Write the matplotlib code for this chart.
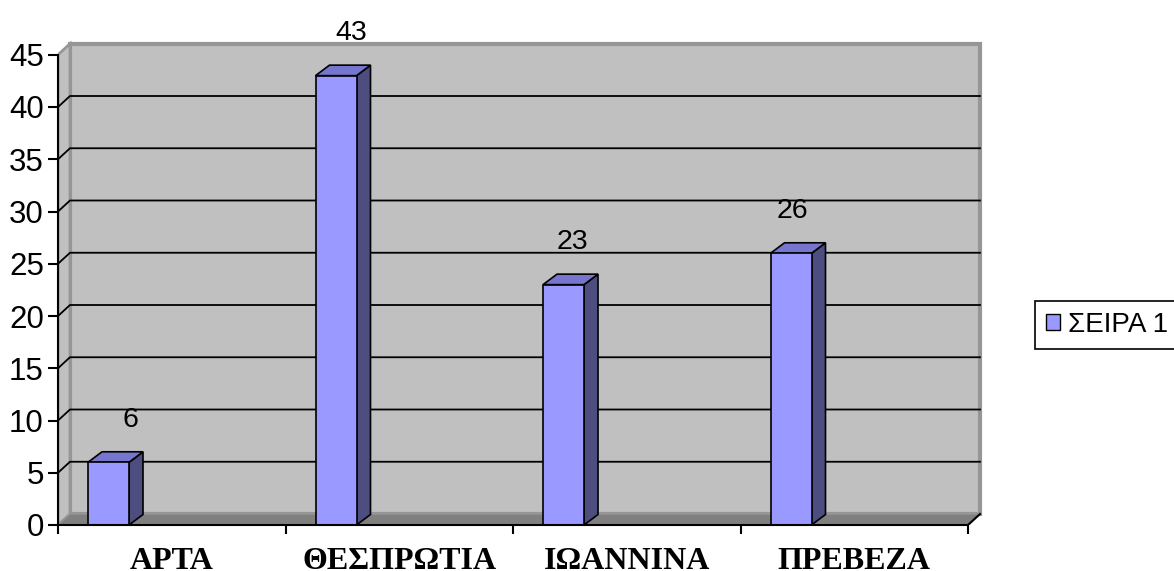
import matplotlib.pyplot as plt
from matplotlib.patches import Polygon, Rectangle, Patch

# Data
categories = ['ΑΡΤΑ', 'ΘΕΣΠΡΩΤΙΑ', 'ΙΩΑΝΝΙΝΑ', 'ΠΡΕΒΕΖΑ']
values = [6, 43, 23, 26]
series_name = 'ΣΕΙΡΑ 1'
y_ticks = [0, 5, 10, 15, 20, 25, 30, 35, 40, 45]

W, H = 1174, 571
fig = plt.figure(figsize=(W / 100, H / 100), dpi=100)

# axes placed so that one category is ~227 px wide and one unit ~10.45 px tall
x_max, y_max = 4.1, 47
ax = fig.add_axes([58 / W, 46 / H, x_max * 227.5 / W, y_max * 10.45 / H])
ax.set_xlim(0, x_max)
ax.set_ylim(0, y_max)

# 3D depth offset in data units
dx = 12 / 227.5
dy = 11 / 10.45
n = len(categories)
top = y_ticks[-1]

wall = '#c0c0c0'
edge = '#969696'

# back wall, side wall and floor
ax.add_patch(Rectangle((dx, dy), n, top, fc=wall, ec=edge, lw=3, zorder=1))
ax.add_patch(Polygon([(0, 0), (0, top), (dx, top + dy), (dx, dy)],
                     fc=wall, ec=edge, lw=2, zorder=1))
ax.add_patch(Polygon([(0, 0), (n, 0), (n + dx, dy), (dx, dy)],
                     fc='#808080', ec=edge, lw=1, zorder=1.5))

# gridlines on side and back wall
for v in y_ticks[1:-1]:
    ax.plot([0, dx, n + dx], [v, v + dy, v + dy], color='k', lw=1.3, zorder=2)

# right end of the floor edge
ax.plot([n, n + dx], [0, dy], color='k', lw=1.5, zorder=2)

# 3D bars
bar_off = 30 / 227.5
bar_w = 41 / 227.5
bdx = 14 / 227.5
bdy = 10.5 / 10.45
for i, v in enumerate(values):
    x0 = i + bar_off
    ax.add_patch(Polygon([(x0 + bar_w, 0), (x0 + bar_w + bdx, bdy),
                          (x0 + bar_w + bdx, v + bdy), (x0 + bar_w, v)],
                         fc='#4d4d80', ec='k', lw=1.2, zorder=3))
    ax.add_patch(Polygon([(x0, v), (x0 + bar_w, v), (x0 + bar_w + bdx, v + bdy),
                          (x0 + bdx, v + bdy)],
                         fc='#7676cf', ec='k', lw=1.2, zorder=3))
    ax.add_patch(Rectangle((x0, 0), bar_w, v, fc='#9999ff', ec='k', lw=1.2, zorder=3))
    # value labels drift left a little along the perspective
    shift = (22 - 6.7 * i) / 227.5
    ax.text(x0 + bar_w / 2 + shift, v + bdy + 1.8, str(v), ha='center', va='bottom',
            fontsize=20.5, family='Liberation Sans', zorder=4)

# axes
for s in ['top', 'right']:
    ax.spines[s].set_visible(False)
ax.spines['left'].set_bounds(0, top)
ax.spines['bottom'].set_bounds(0, n)
for s in ['left', 'bottom']:
    ax.spines[s].set_linewidth(1.5)
    ax.spines[s].set_zorder(5)

ax.set_yticks(y_ticks)
ax.set_yticklabels([str(t) for t in y_ticks], fontsize=22.5, family='Liberation Sans')
ax.tick_params(axis='y', length=7.2, width=1.5, pad=3)

ax.set_xticks(range(n + 1))
ax.set_xticklabels([])
ax.tick_params(axis='x', which='major', length=6.5, width=1.5)
ax.set_xticks([i + 0.5 for i in range(n)], minor=True)
ax.set_xticklabels(categories, minor=True, fontsize=23, fontweight='bold',
                   family='Liberation Serif')
ax.tick_params(axis='x', which='minor', length=0, pad=16)

# legend
leg = fig.legend(handles=[Patch(fc='#9999ff', ec='k', label=series_name)],
                 loc='center left', bbox_to_anchor=(1035 / W, 1 - 325 / H),
                 borderaxespad=0, frameon=True, fancybox=False, edgecolor='k',
                 framealpha=1, handlelength=0.5, handleheight=0.5, handletextpad=0.3,
                 borderpad=0.4, prop={'family': 'Liberation Sans', 'size': 20})
leg.get_frame().set_linewidth(1.2)

fig.savefig('out.png', dpi=100)
